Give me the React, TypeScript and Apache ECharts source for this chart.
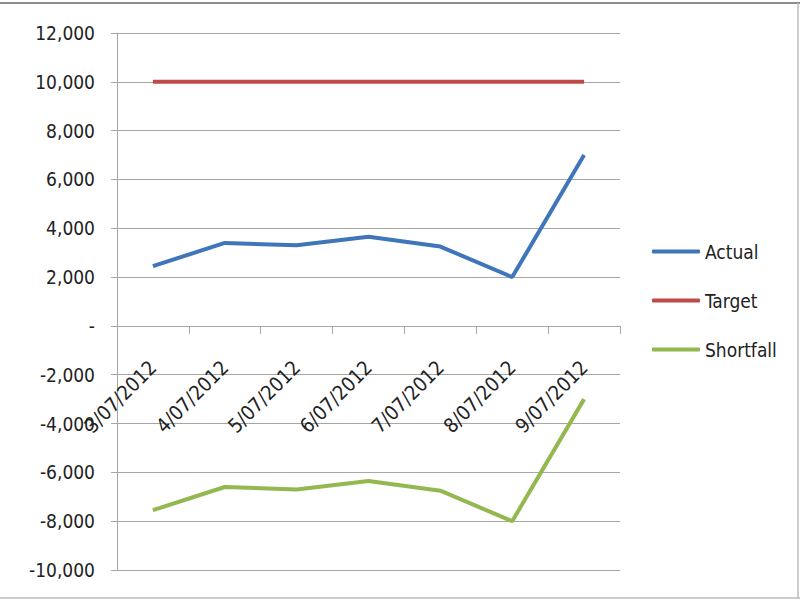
import React, { useEffect, useRef } from "react";
import * as echarts from "echarts";

const categories = ["3/07/2012", "4/07/2012", "5/07/2012", "6/07/2012", "7/07/2012", "8/07/2012", "9/07/2012"];
const actual = [2450, 3400, 3300, 3650, 3250, 2000, 7000];
const target = [10000, 10000, 10000, 10000, 10000, 10000, 10000];
const shortfall = [-7550, -6600, -6700, -6350, -6750, -8000, -3000];
const seriesNames = ["Actual", "Target", "Shortfall"];
const colors = ["#3f75b9", "#be4b48", "#92b84f"];

const FONT = "'Liberation Sans Narrow', 'DejaVu Sans Condensed', 'Liberation Sans', sans-serif";

export default function App() {
  const ref = useRef<HTMLDivElement>(null);
  useEffect(() => {
    if (!ref.current) return;
    const chart = echarts.init(ref.current, undefined, { renderer: "svg" });
    const fmt = (v: number) => (v === 0 ? "-" : v.toLocaleString("en-US"));
    chart.setOption({
      animation: false,
      backgroundColor: "#ffffff",
      color: colors,
      grid: { left: 117, right: 180, top: 33, bottom: 30, containLabel: false, outerBoundsMode: "none" },
      legend: {
        orient: "vertical",
        left: 647,
        top: 237,
        itemWidth: 48,
        itemHeight: 4,
        itemGap: 30,
        icon: "roundRect",
        textStyle: { fontFamily: FONT, fontSize: 19, color: "#222" },
        data: seriesNames,
      },
      xAxis: [
        {
          type: "category",
          data: categories,
          boundaryGap: true,
          axisLine: { onZero: true, lineStyle: { color: "#a6a6a6", width: 1 } },
          axisTick: { show: true, length: 8, inside: false, lineStyle: { color: "#a6a6a6" } },
          axisLabel: { show: false },
          splitLine: { show: false },
        },
        {
          type: "category",
          data: categories,
          boundaryGap: true,
          position: "bottom",
          offset: -244,
          axisLine: { show: false, onZero: false },
          axisTick: { show: false },
          axisLabel: {
            rotate: 45,
            margin: 38,
            fontFamily: FONT,
            fontSize: 20,
            color: "#222",
          },
          splitLine: { show: false },
        },
      ],
      yAxis: {
        type: "value",
        min: -10000,
        max: 12000,
        interval: 2000,
        axisLine: { show: true, lineStyle: { color: "#a6a6a6" } },
        axisTick: { show: true, length: 6, lineStyle: { color: "#a6a6a6" } },
        axisLabel: { formatter: fmt, fontFamily: FONT, fontSize: 19, color: "#222", margin: 22 },
        splitLine: { show: true, lineStyle: { color: "#a6a6a6", width: 1 } },
      },
      series: [
        { name: seriesNames[0], type: "line", data: actual, symbol: "none", lineStyle: { width: 4, color: colors[0] } },
        { name: seriesNames[1], type: "line", data: target, symbol: "none", lineStyle: { width: 4, color: colors[1] } },
        { name: seriesNames[2], type: "line", data: shortfall, symbol: "none", lineStyle: { width: 4, color: colors[2] } },
      ],
      graphic: [
        { type: "line", shape: { x1: 0, y1: 3, x2: 800, y2: 3 }, style: { stroke: "#8c8c8c", lineWidth: 2 } },
        { type: "line", shape: { x1: 798, y1: 3, x2: 798, y2: 598 }, style: { stroke: "#bdbdbd", lineWidth: 1.5 } },
        { type: "line", shape: { x1: 0, y1: 598, x2: 800, y2: 598 }, style: { stroke: "#bdbdbd", lineWidth: 1.5 } },
      ],
    });
    return () => chart.dispose();
  }, []);
  return <div ref={ref} style={{ position: "fixed", left: 0, top: 0, width: 800, height: 600 }} />;
}
